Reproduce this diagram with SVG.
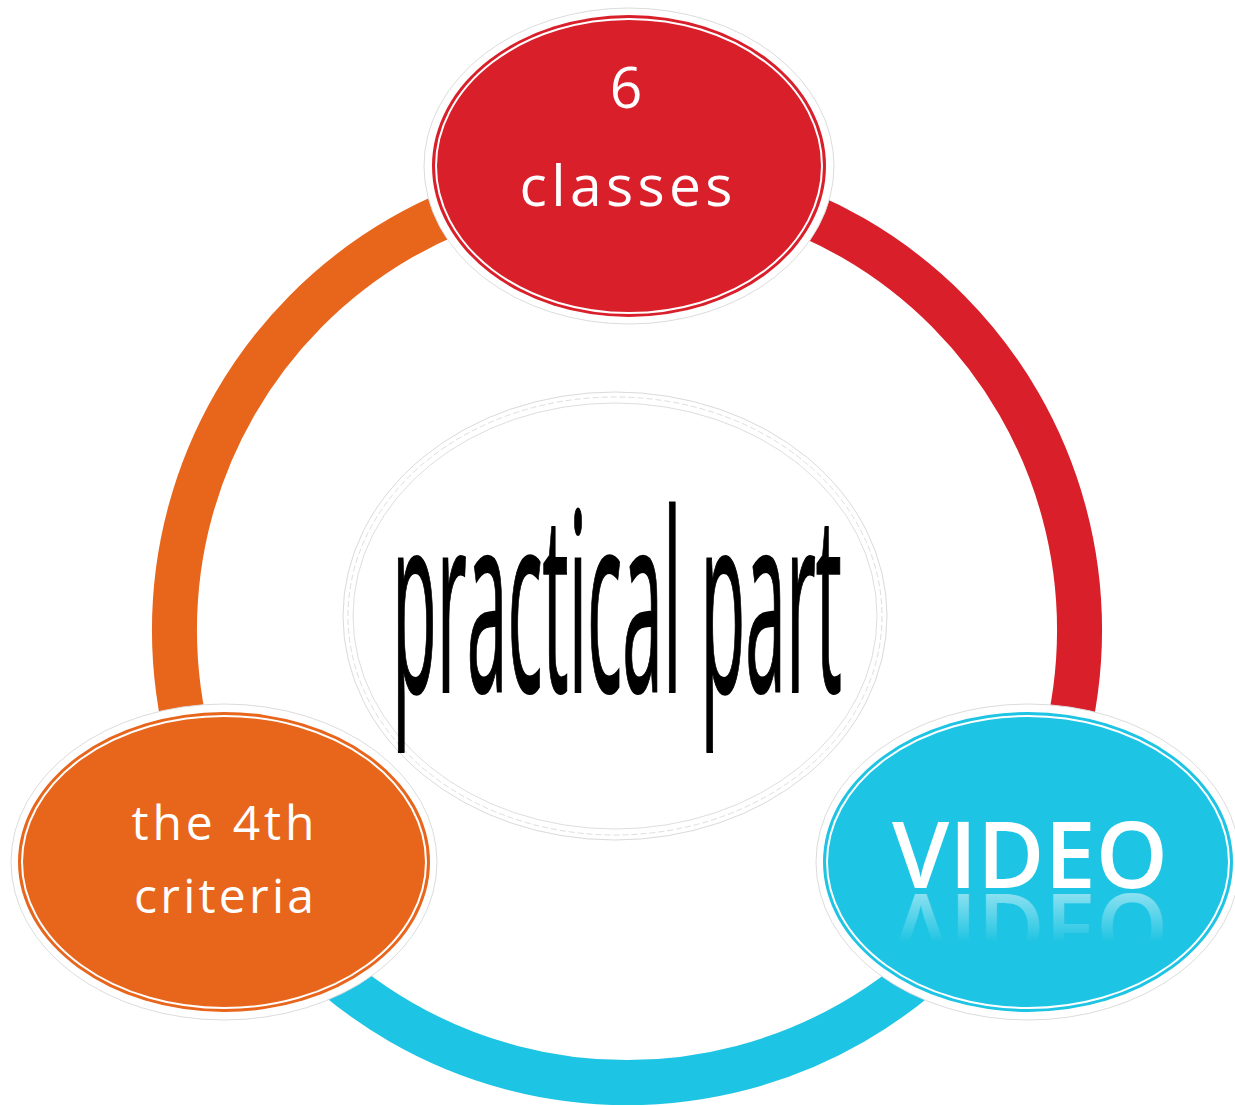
<svg xmlns="http://www.w3.org/2000/svg" width="1235" height="1106" viewBox="0 0 1235 1106">
  <defs>
    <style>
      .ring { fill: none; stroke-width: 45; }
      .halo { fill: #ffffff; stroke: #dcdcdc; stroke-width: 1; }
      .inner { fill: none; stroke: #ffffff; stroke-width: 2; }
      .lbl { font-family: "Open Sans", "Liberation Sans", sans-serif; fill: #ffffff; text-anchor: middle; }
      .cline { fill: none; stroke: #dedede; stroke-width: 1; }
    </style>
    <linearGradient id="refl" gradientUnits="userSpaceOnUse" x1="0" y1="890" x2="0" y2="840">
      <stop offset="0" stop-color="#ffffff" stop-opacity="0.5"/>
      <stop offset="1" stop-color="#ffffff" stop-opacity="0"/>
    </linearGradient>
  </defs>
  <rect width="1235" height="1106" fill="#ffffff"/>

  <g id="connectors">
    <path class="ring" stroke="#D91F2A" d="M 627 177.5 A 452.5 452.5 0 0 1 1018.9 856.3"/>
    <path class="ring" stroke="#1EC4E3" d="M 1018.9 856.3 A 452.5 452.5 0 0 1 235.1 856.3"/>
    <path class="ring" stroke="#E8651C" d="M 235.1 856.3 A 452.5 452.5 0 0 1 627 177.5"/>
  </g>

  <g id="center">
    <ellipse cx="615" cy="616" rx="272" ry="224" fill="#ffffff" stroke="#dadada" stroke-width="1"/>
    <ellipse class="cline" cx="615" cy="616" rx="267" ry="219" stroke-dasharray="6 3"/>
    <ellipse class="cline" cx="615" cy="616" rx="262" ry="213"/>
    <text transform="translate(392,692) scale(0.293,1)" x="0" y="0" font-family="'Open Sans', 'Liberation Sans', sans-serif" font-size="250" fill="#000000" stroke="#000000" stroke-width="2">practical part</text>
  </g>

  <g id="node-classes">
    <ellipse class="halo" cx="629" cy="166" rx="205" ry="158"/>
    <ellipse cx="629" cy="166" rx="197" ry="151" fill="#D91F2A"/>
    <ellipse class="inner" cx="629" cy="166" rx="193" ry="147"/>
    <text class="lbl" x="626" y="108" font-size="57">6</text>
    <text class="lbl" x="626" y="206" font-size="57" textLength="213" lengthAdjust="spacing">classes</text>
  </g>

  <g id="node-criteria">
    <ellipse class="halo" cx="224" cy="862" rx="213" ry="158"/>
    <ellipse cx="224" cy="862" rx="206" ry="150" fill="#E8651C"/>
    <ellipse class="inner" cx="224" cy="862" rx="202" ry="146"/>
    <text class="lbl" x="223" y="840" font-size="48" textLength="183" lengthAdjust="spacing">the 4th</text>
    <text class="lbl" x="224" y="913" font-size="48" textLength="180" lengthAdjust="spacing">criteria</text>
  </g>

  <g id="node-video">
    <ellipse class="halo" cx="1028" cy="862" rx="212" ry="158"/>
    <ellipse cx="1028" cy="862" rx="205" ry="150" fill="#1EC4E3"/>
    <ellipse class="inner" cx="1028" cy="862" rx="201" ry="146"/>
    <text class="lbl" x="1030" y="888" font-size="92" font-weight="600" textLength="276" lengthAdjust="spacingAndGlyphs">VIDEO</text>
    <g transform="translate(0,1782) scale(1,-1)">
      <text x="1030" y="888" font-family="'Open Sans', 'Liberation Sans', sans-serif" font-size="92" font-weight="600" text-anchor="middle" fill="url(#refl)" textLength="276" lengthAdjust="spacingAndGlyphs">VIDEO</text>
    </g>
  </g>
</svg>
